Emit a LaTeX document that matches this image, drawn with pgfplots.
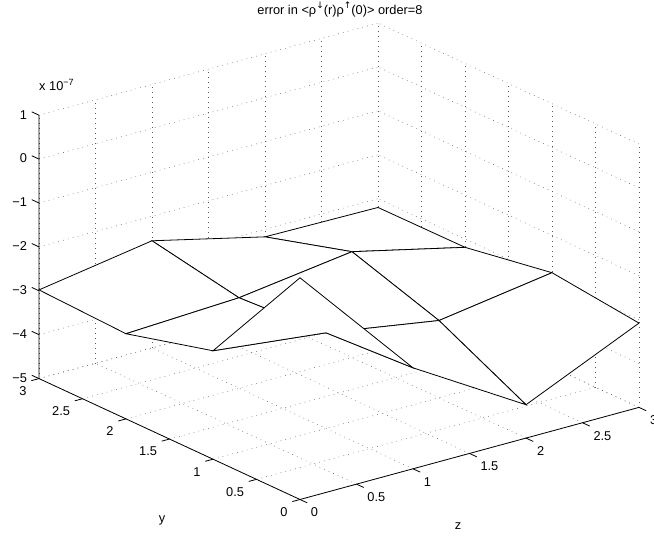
\documentclass[border=0pt]{standalone}
\usepackage{fontspec}
\setmainfont{Liberation Sans}
\newfontfamily\symfont{DejaVu Sans}
\usepackage{pgfplots}
\pgfplotsset{compat=1.18}
\begin{document}
\begin{tikzpicture}[x=1pt,y=1pt]
\path[use as bounding box] (0,0) rectangle (654,537);
\begin{axis}[
    at={(300pt,257pt)},
    anchor=origin,
    x={(113pt,30.7pt)},
    y={(-87pt,40.3pt)},
    z={(0pt,43.9pt)},
    xmin=0, xmax=3,
    ymin=0, ymax=3,
    zmin=-5, zmax=1,
    clip=false,
    grid=major,
    grid style={draw=black!65, line width=0.5pt, dash pattern=on 0.7pt off 4.3pt},
    axis line style={draw=none},
    xtick={0,0.5,1,1.5,2,2.5,3},
    ytick={0,0.5,1,1.5,2,2.5,3},
    ztick={-5,-4,-3,-2,-1,0,1},
    xticklabels={0,0.5,1,1.5,2,2.5,3},
    yticklabels={0,0.5,1,1.5,2,2.5,3},
    zticklabels={−5,−4,−3,−2,−1,0,1},
    major tick length=0pt,
    tick pos=left,
    ticklabel style={font=\fontsize{12.8}{14}\selectfont, text=black, inner sep=0pt, outer sep=0pt},
    xticklabel style={anchor=west, xshift=11pt, yshift=-13pt},
    yticklabel style={anchor=east, xshift=-12.5pt, yshift=-12.5pt},
    zticklabel style={anchor=east, xshift=-12pt, yshift=0.5pt},
]
% solid box edges
\addplot3[black, line width=0.8pt, forget plot] coordinates {(3,0,-5) (0,0,-5) (0,3,-5) (0,3,1)};
% ticks: x axis
\addplot3[black, line width=0.8pt, forget plot] coordinates {
(0,0,-5) (0,-0.083,-5)

(0.5,0,-5) (0.5,-0.083,-5)

(1,0,-5) (1,-0.083,-5)

(1.5,0,-5) (1.5,-0.083,-5)

(2,0,-5) (2,-0.083,-5)

(2.5,0,-5) (2.5,-0.083,-5)

(3,0,-5) (3,-0.083,-5)
};
% ticks: y axis
\addplot3[black, line width=0.8pt, forget plot] coordinates {
(0,0,-5) (-0.068,0,-5)

(0,0.5,-5) (-0.068,0.5,-5)

(0,1,-5) (-0.068,1,-5)

(0,1.5,-5) (-0.068,1.5,-5)

(0,2,-5) (-0.068,2,-5)

(0,2.5,-5) (-0.068,2.5,-5)

(0,3,-5) (-0.068,3,-5)
};
% ticks: z axis
\addplot3[black, line width=0.8pt, forget plot] coordinates {
(0,3,-5) (0,3.083,-5)

(0,3,-4) (0,3.083,-4)

(0,3,-3) (0,3.083,-3)

(0,3,-2) (0,3.083,-2)

(0,3,-1) (0,3.083,-1)

(0,3,0) (0,3.083,0)

(0,3,1) (0,3.083,1)
};
% error surface, 4x4 grid
\addplot3[surf, shader=faceted, mesh/rows=4, z buffer=sort,
    colormap={white}{color=(white) color=(white)},
    faceted color=black, line width=0.8pt]
table {
x y z
0 0 0.05
1 0 -2.70
2 0 -4.24
3 0 -3.08
0 1 -2.53
1 1 -2.82
2 1 -3.24
3 1 -2.85
0 2 -3.06
1 2 -2.94
2 2 -2.59
3 2 -3.19
0 3 -2.98
1 3 -2.56
2 3 -3.17
3 3 -3.20
};
\end{axis}
\node[font=\fontsize{12.8}{14}\selectfont, inner sep=0pt] at (340,527.5) {error in <ρ\raisebox{5.5pt}{\symfont\fontsize{9}{9}\selectfont ↓}(r)ρ\raisebox{5.5pt}{\symfont\fontsize{9}{9}\selectfont ↑}(0)> order=8};
\node[font=\fontsize{12.8}{14}\selectfont, anchor=west, inner sep=0pt] at (39,452) {x 10\raisebox{5pt}{\fontsize{9}{9}\selectfont −7}};
\node[font=\fontsize{12.8}{14}\selectfont, inner sep=0pt] at (162,17) {y};
\node[font=\fontsize{12.8}{14}\selectfont, inner sep=0pt] at (458,11) {z};
\end{tikzpicture}
\end{document}
